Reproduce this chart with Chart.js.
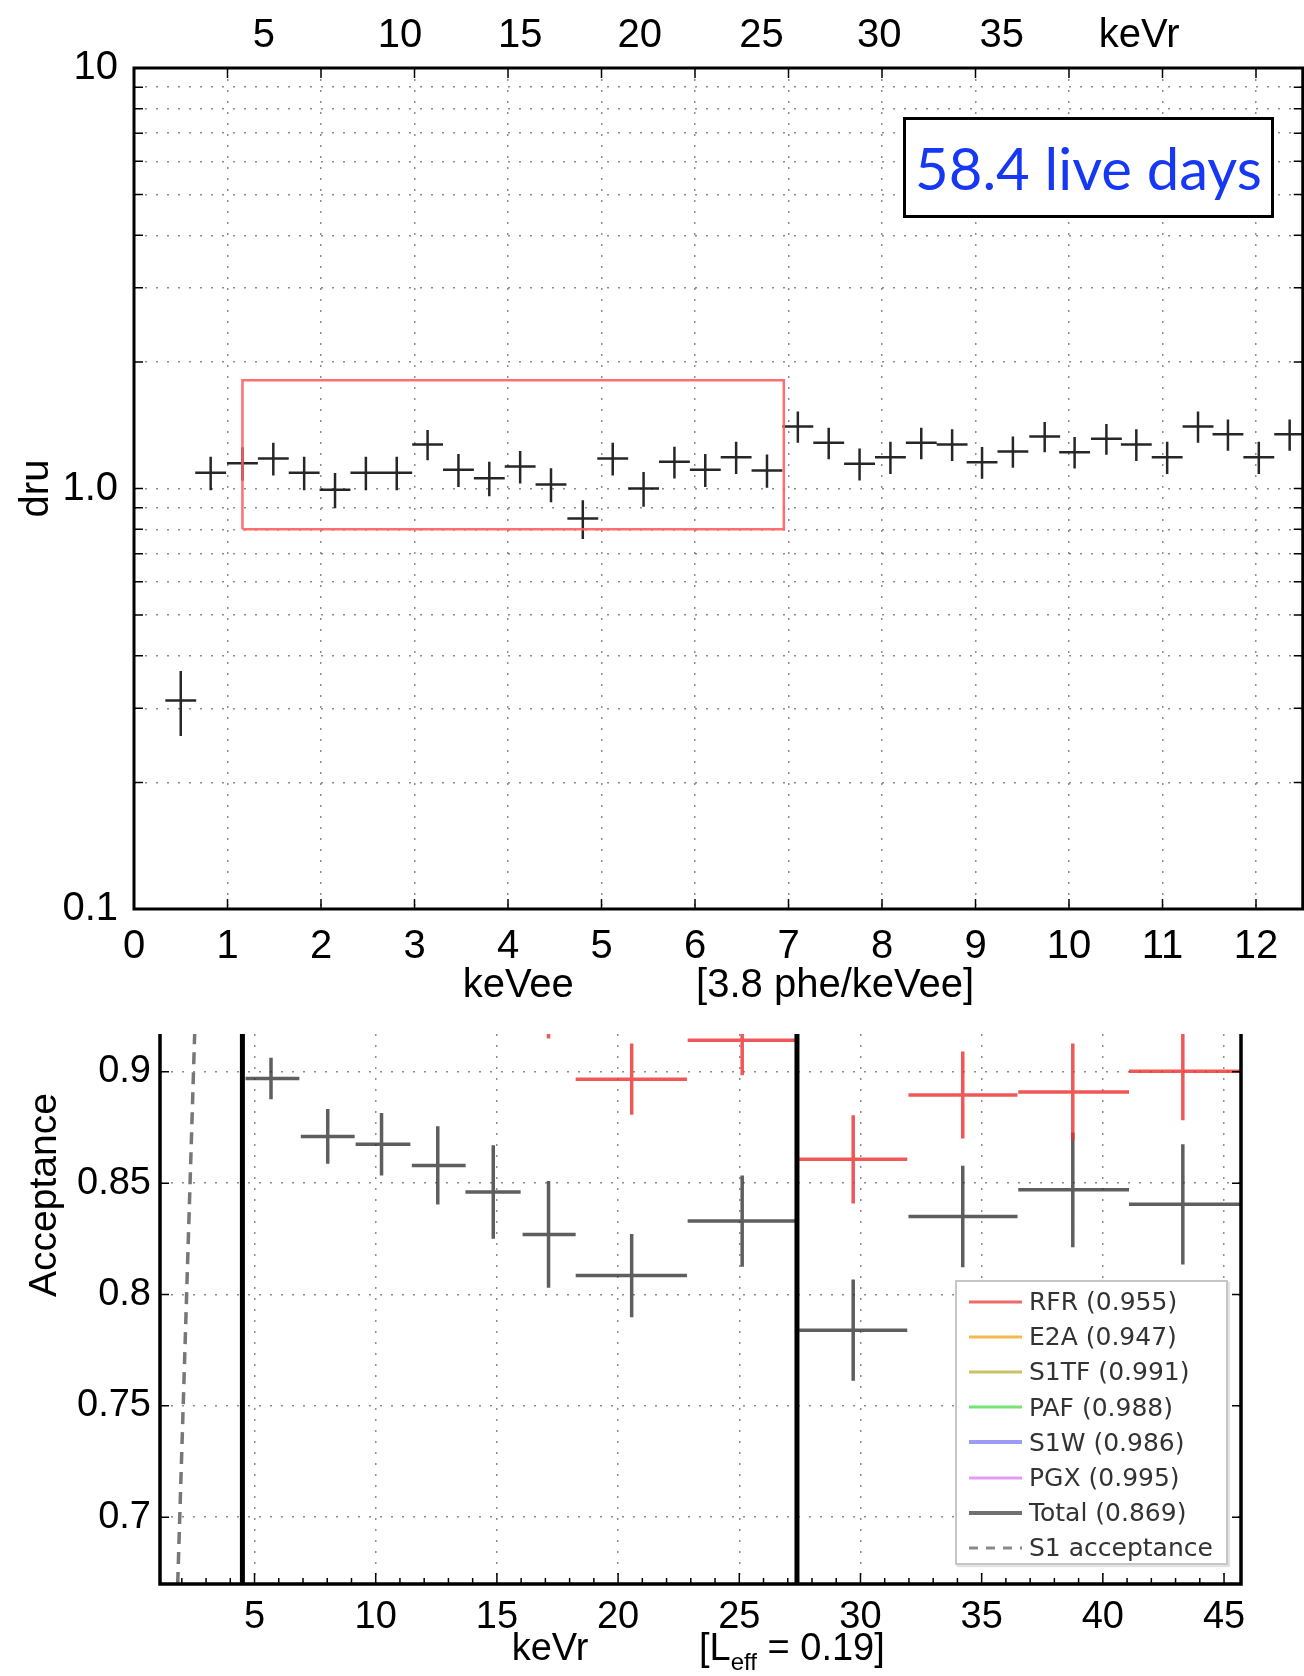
<!DOCTYPE html>
<html>
<head>
<meta charset="utf-8">
<title>dru / Acceptance</title>
<script src="https://cdn.jsdelivr.net/npm/chart.js@4.4.1/dist/chart.umd.min.js"></script>
<style>
html,body{margin:0;padding:0;background:#fff;}
body{position:relative;width:1304px;height:1676px;overflow:hidden;}
#topChart{position:absolute;left:0;top:0;}
#accChart{position:absolute;left:0;top:1020px;}
.live{position:absolute;left:903px;top:117px;width:365px;height:95px;border:3px solid #000;background:#fff;color:#1638f5;font:58px Lato,"Open Sans",sans-serif;display:flex;align-items:center;justify-content:center;white-space:nowrap;}
.legend{position:absolute;left:955px;top:1280px;width:273px;height:285px;box-sizing:border-box;border:2px solid #c6c6c6;box-shadow:2px 2px 1px #e2e2e2;background:#fff;padding-top:2px;}
.legend .row{display:flex;align-items:center;height:35.2px;}
.legend svg{margin-left:12px;margin-right:7px;flex:none;}
.legend span{font:25px "DejaVu Sans",sans-serif;color:#333;white-space:nowrap;}
</style>
</head>
<body>
<canvas id="topChart" width="1304" height="1010"></canvas>
<canvas id="accChart" width="1304" height="656"></canvas>
<div class="live">58.4 live days</div>
<div class="legend" id="legend"></div>
<script>
/*========== Data ==========*/

// top panel: rate (dru) per keVee bin
const keVee=[0.50,0.82,1.16,1.49,1.82,2.15,2.48,2.81,3.14,3.47,3.80,4.13,4.46,4.80,5.12,5.45,5.78,6.11,6.44,6.77,7.10,7.43,7.76,8.09,8.42,8.75,9.07,9.40,9.74,10.06,10.40,10.72,11.05,11.38,11.70,12.03,12.36];
const dru=[0.313,1.09,1.149,1.179,1.09,0.993,1.09,1.09,1.273,1.108,1.058,1.128,1.022,0.848,1.179,1.0,1.157,1.108,1.187,1.104,1.405,1.284,1.145,1.187,1.284,1.273,1.155,1.225,1.33,1.22,1.313,1.273,1.187,1.405,1.345,1.187,1.345];
const druErr=[0.055,0.1,0.105,0.105,0.1,0.095,0.1,0.1,0.105,0.1,0.1,0.1,0.095,0.09,0.105,0.095,0.1,0.1,0.105,0.1,0.12,0.11,0.1,0.105,0.11,0.11,0.1,0.105,0.11,0.105,0.11,0.11,0.105,0.12,0.115,0.105,0.115];
const binHalf=0.165;

// signal region box
const boxX=[1.16,6.95];
const boxY=[0.80,1.81];

const keVeeTicks=[0,1,2,3,4,5,6,7,8,9,10,11,12];
const druTicks=[0.1,0.2,0.3,0.4,0.5,0.6,0.7,0.8,0.9,1,2,3,4,5,6,7,8,9,10];
const keVrPos=[1.39,2.845,4.13,5.41,6.71,7.97,9.28,10.75];
const keVrLabels=["5","10","15","20","25","30","35","keVr"];

// bottom panel: acceptance per keVr bin
const binCtr=[5.68,8.02,10.24,12.56,14.85,17.13,20.56,25.12,29.70,34.22,38.76,43.30];
const binLo=[4.63,6.91,9.17,11.49,13.70,16.06,18.25,22.87,27.47,31.98,36.51,41.08];
const binHi=[6.85,9.13,11.43,13.71,15.98,18.25,22.84,27.30,31.93,36.48,41.08,45.66];
const totalAcc=[0.897,0.871,0.8675,0.858,0.846,0.827,0.8085,0.833,0.784,0.835,0.847,0.8405];
const totalErr=[0.0093,0.0123,0.014,0.0176,0.021,0.024,0.0187,0.0205,0.0227,0.0228,0.0258,0.027];

const rfrCtr=[17.13,20.56,25.12,29.70,34.22,38.76,43.30];
const rfrLo=[16.06,18.25,22.87,27.47,31.98,36.51,41.08];
const rfrHi=[18.25,22.84,27.30,31.93,36.48,41.08,45.66];
const rfrAcc=[0.94,0.8967,0.9142,0.8607,0.8896,0.891,0.9003];
const rfrErr=[0.025,0.016,0.0157,0.0198,0.0195,0.0217,0.022];

const cutKeVr=[4.5,27.38];
const s1AccX=[1.83,2.53];
const s1AccY=[0.67,0.917];

const keVrTicks=[5,10,15,20,25,30,35,40,45];
const accTicks=[0.7,0.75,0.8,0.85,0.9];

const legendNames=["RFR (0.955)","E2A (0.947)","S1TF (0.991)","PAF (0.988)","S1W (0.986)","PGX (0.995)","Total (0.869)","S1 acceptance"];
const legendColors=["#f06a6a","#f5b84f","#c9c266","#74e474","#9c9cf7","#e39cf2","#707070","#8a8a8a"];
const legendWidths=[3,3,3,3,4,3,4,3];

/*========== Helpers ==========*/

const $=id=>document.getElementById(id);
const FONT="'Liberation Sans',Arial,sans-serif";
const GRID={color:"rgba(0,0,0,0.45)",lineWidth:1.5,drawTicks:false};
const DOTS={display:false,dash:[2,9]};

function crosses(xs,ys,lo,hi,err){
    const pts=[];
    xs.forEach((x,i)=>{
        pts.push({x:lo[i],y:ys[i]},{x:hi[i],y:ys[i]},{x:hi[i],y:null});
        pts.push({x:x,y:ys[i]-err[i]},{x:x,y:ys[i]+err[i]},{x:x,y:null});
    });
    return pts;
}

function vline(x,y0,y1){
    return [{x:x,y:y0},{x:x,y:y1}];
}

Chart.defaults.font.family=FONT;
Chart.defaults.color="#000";

/*========== Plugins ==========*/

const topFrame={id:"topFrame",afterDraw(c){
    const {ctx,chartArea:a,scales:{x,y}}=c;
    ctx.save();
    ctx.strokeStyle="#000";
    ctx.lineWidth=1.5;
    ctx.beginPath();
    keVeeTicks.forEach(v=>{
        const p=x.getPixelForValue(v);
        ctx.moveTo(p,a.bottom);ctx.lineTo(p,a.bottom-10);
        ctx.moveTo(p,a.top);ctx.lineTo(p,a.top+10);
    });
    druTicks.forEach(v=>{
        const p=y.getPixelForValue(v);
        ctx.moveTo(a.left,p);ctx.lineTo(a.left+9,p);
        ctx.moveTo(a.right,p);ctx.lineTo(a.right-9,p);
    });
    ctx.stroke();
    ctx.lineWidth=3;
    ctx.strokeRect(a.left,a.top,a.width,a.height);
    ctx.restore();
}};

const accFrame={id:"accFrame",afterDraw(c){
    const {ctx,chartArea:a,scales:{x,y}}=c;
    ctx.save();
    ctx.strokeStyle="#000";
    ctx.lineWidth=1.5;
    ctx.beginPath();
    for(let v=2;v<=45;v++){
        const p=x.getPixelForValue(v);
        ctx.moveTo(p,a.bottom);ctx.lineTo(p,a.bottom-(v%5===0?11:6));
    }
    accTicks.forEach(v=>{
        const p=y.getPixelForValue(v);
        ctx.moveTo(a.left,p);ctx.lineTo(a.left+9,p);
        ctx.moveTo(a.right,p);ctx.lineTo(a.right-9,p);
    });
    ctx.stroke();
    ctx.lineWidth=3.5;
    ctx.beginPath();
    ctx.moveTo(a.left,a.top);ctx.lineTo(a.left,a.bottom);ctx.lineTo(a.right,a.bottom);ctx.lineTo(a.right,a.top);
    ctx.stroke();

    // axis titles
    ctx.fillStyle="#000";
    ctx.textBaseline="middle";
    ctx.font="39px "+FONT;
    ctx.save();
    ctx.translate(45,175);
    ctx.rotate(-Math.PI/2);
    ctx.textAlign="center";
    ctx.fillText("Acceptance",0,0);
    ctx.restore();
    ctx.font="38px "+FONT;
    ctx.textAlign="center";
    ctx.fillText("keVr",550,630);
    ctx.textAlign="left";
    let tx=699;
    ctx.fillText("[L",tx,630);
    tx+=ctx.measureText("[L").width;
    ctx.font="24px "+FONT;
    ctx.fillText("eff",tx,643);
    tx+=ctx.measureText("eff").width;
    ctx.font="38px "+FONT;
    ctx.fillText(" = 0.19]",tx,630);
    ctx.restore();
}};

/*========== Top chart ==========*/

function drawTopChart(){

    const boxPts=[
        {x:boxX[0],y:boxY[0]},{x:boxX[1],y:boxY[0]},{x:boxX[1],y:boxY[1]},
        {x:boxX[0],y:boxY[1]},{x:boxX[0],y:boxY[0]}
    ];
    const lo=keVee.map(v=>v-binHalf);
    const hi=keVee.map(v=>v+binHalf);

    new Chart($("topChart"),{
        type:"line",
        data:{datasets:[
            {data:boxPts,borderColor:"rgba(255,95,95,0.9)",borderWidth:2.5,pointRadius:0,tension:0},
            {data:crosses(keVee,dru,lo,hi,druErr),borderColor:"rgba(0,0,0,0.85)",borderWidth:2.5,pointRadius:0,spanGaps:false,tension:0}
        ]},
        options:{
            responsive:false,animation:false,events:[],
            layout:{padding:{left:0,right:1.25,top:0,bottom:0}},
            plugins:{legend:{display:false},tooltip:{enabled:false}},
            scales:{
                x:{
                    type:"linear",position:"bottom",min:0,max:12.5,
                    afterBuildTicks:s=>{s.ticks=keVeeTicks.map(v=>({value:v}));},
                    afterFit:s=>{s.height=101;},
                    grid:GRID,border:DOTS,
                    ticks:{font:{size:40},padding:14,autoSkip:false,maxRotation:0,callback:v=>String(v)},
                    title:{display:true,text:"keVee           [3.8 phe/keVee]",font:{size:40},padding:{top:0,bottom:0}}
                },
                x2:{
                    type:"linear",position:"top",min:0,max:12.5,
                    afterBuildTicks:s=>{s.ticks=keVrPos.map(v=>({value:v}));},
                    afterFit:s=>{s.height=68;},
                    grid:{display:false,drawTicks:false},border:{display:false},
                    ticks:{font:{size:40},padding:8,autoSkip:false,maxRotation:0,callback:(v,i)=>keVrLabels[i]}
                },
                y:{
                    type:"logarithmic",min:0.1,max:10,
                    afterBuildTicks:s=>{s.ticks=druTicks.map(v=>({value:v}));},
                    afterFit:s=>{s.width=134;},
                    grid:GRID,border:DOTS,
                    ticks:{font:{size:40},padding:16,autoSkip:false,callback:v=>v===10?"10":v===1?"1.0":v===0.1?"0.1":""},
                    title:{display:true,text:"dru",font:{size:40},padding:{top:13,bottom:0}}
                }
            }
        },
        plugins:[topFrame]
    });

}

/*========== Acceptance chart ==========*/

function drawAccChart(){

    new Chart($("accChart"),{
        type:"line",
        data:{datasets:[
            {data:s1AccX.map((x,i)=>({x:x,y:s1AccY[i]})),borderColor:"#777",borderWidth:3.5,borderDash:[12,8],pointRadius:0},
            {data:vline(cutKeVr[0],0.6,1),borderColor:"#000",borderWidth:5,pointRadius:0},
            {data:vline(cutKeVr[1],0.6,1),borderColor:"#000",borderWidth:5,pointRadius:0},
            {data:crosses(rfrCtr,rfrAcc,rfrLo,rfrHi,rfrErr),borderColor:"rgba(236,45,45,0.8)",borderWidth:3.5,pointRadius:0,spanGaps:false},
            {data:crosses(binCtr,totalAcc,binLo,binHi,totalErr),borderColor:"rgba(40,40,40,0.75)",borderWidth:3.5,pointRadius:0,spanGaps:false}
        ]},
        options:{
            responsive:false,animation:false,events:[],
            layout:{padding:{left:0,right:63,top:14,bottom:0}},
            plugins:{legend:{display:false},tooltip:{enabled:false}},
            scales:{
                x:{
                    type:"linear",min:1.1,max:45.7,
                    afterBuildTicks:s=>{s.ticks=keVrTicks.map(v=>({value:v}));},
                    afterFit:s=>{s.height=92;s.paddingLeft=0;s.paddingRight=0;},
                    grid:GRID,border:DOTS,
                    ticks:{font:{size:38},padding:11,autoSkip:false,maxRotation:0,callback:v=>String(v)}
                },
                y:{
                    type:"linear",min:0.67,max:0.917,
                    afterBuildTicks:s=>{s.ticks=accTicks.map(v=>({value:v}));},
                    afterFit:s=>{s.width=160;s.paddingTop=0;s.paddingBottom=0;},
                    grid:GRID,border:DOTS,
                    ticks:{font:{size:38},padding:9,autoSkip:false,callback:v=>String(v)}
                }
            }
        },
        plugins:[accFrame]
    });

}

/*========== Legend ==========*/

function buildLegend(){
    $("legend").innerHTML=legendNames.map((n,i)=>`
        <div class="row">
            <svg width="53" height="8"><line x1="0" y1="4" x2="53" y2="4" stroke="${legendColors[i]}" stroke-width="${legendWidths[i]}" ${i===legendNames.length-1?'stroke-dasharray="9 8"':""}/></svg>
            <span>${n}</span>
        </div>
    `).join("");
}

drawTopChart();
drawAccChart();
buildLegend();
</script>
</body>
</html>
